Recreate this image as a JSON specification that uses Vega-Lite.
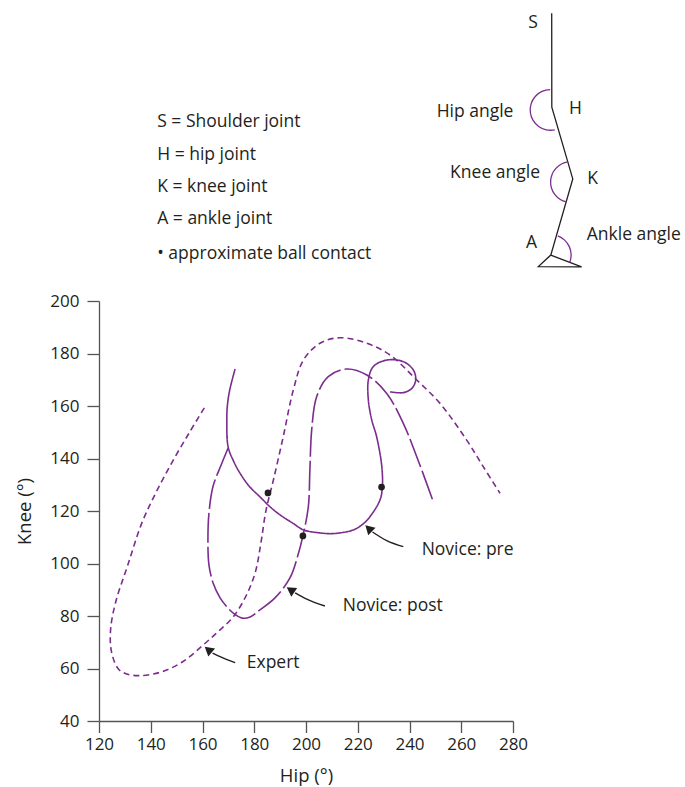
{
  "$schema": "https://vega.github.io/schema/vega-lite/v6.json",
  "autosize": "none",
  "width": 414,
  "height": 420,
  "padding": {"left": 99, "top": 301, "right": 172, "bottom": 66},
  "background": "white",
  "config": {
    "view": {"stroke": null},
    "font": "Open Sans",
    "axis": {
      "labelFont": "Open Sans", "labelFontSize": 17, "labelColor": "#231f20",
      "titleFont": "Open Sans", "titleFontSize": 18.5, "titleFontWeight": "normal", "titleColor": "#231f20",
      "domainColor": "#555555", "tickColor": "#555555", "domainWidth": 1.3, "tickWidth": 1.3,
      "grid": false
    }
  },
  "datasets": {
    "curves": [
      {"series": "Expert", "order": 1, "hip": 160.7, "knee": 159.3},
      {"series": "Expert", "order": 2, "hip": 155, "knee": 150},
      {"series": "Expert", "order": 3, "hip": 148.7, "knee": 139.4},
      {"series": "Expert", "order": 4, "hip": 142, "knee": 127},
      {"series": "Expert", "order": 5, "hip": 136.5, "knee": 115.3},
      {"series": "Expert", "order": 6, "hip": 131, "knee": 99},
      {"series": "Expert", "order": 7, "hip": 126.5, "knee": 85.5},
      {"series": "Expert", "order": 8, "hip": 124.5, "knee": 75},
      {"series": "Expert", "order": 9, "hip": 124.8, "knee": 66.5},
      {"series": "Expert", "order": 10, "hip": 127.5, "knee": 59.8},
      {"series": "Expert", "order": 11, "hip": 131, "knee": 57.8},
      {"series": "Expert", "order": 12, "hip": 135.2, "knee": 57.3},
      {"series": "Expert", "order": 13, "hip": 140, "knee": 57.7},
      {"series": "Expert", "order": 14, "hip": 146.1, "knee": 59.4},
      {"series": "Expert", "order": 15, "hip": 153, "knee": 63},
      {"series": "Expert", "order": 16, "hip": 160.3, "knee": 69},
      {"series": "Expert", "order": 17, "hip": 166, "knee": 74},
      {"series": "Expert", "order": 18, "hip": 171.9, "knee": 79.7},
      {"series": "Expert", "order": 19, "hip": 177, "knee": 88},
      {"series": "Expert", "order": 20, "hip": 180.5, "knee": 97},
      {"series": "Expert", "order": 21, "hip": 182.6, "knee": 108},
      {"series": "Expert", "order": 22, "hip": 184.5, "knee": 120},
      {"series": "Expert", "order": 23, "hip": 187.4, "knee": 131.8},
      {"series": "Expert", "order": 24, "hip": 191.2, "knee": 148.3},
      {"series": "Expert", "order": 25, "hip": 195.1, "knee": 166.1},
      {"series": "Expert", "order": 26, "hip": 199, "knee": 177.5},
      {"series": "Expert", "order": 27, "hip": 205.4, "knee": 183.9},
      {"series": "Expert", "order": 28, "hip": 213.1, "knee": 186},
      {"series": "Expert", "order": 29, "hip": 223.5, "knee": 183.9},
      {"series": "Expert", "order": 30, "hip": 232.5, "knee": 179.4},
      {"series": "Expert", "order": 31, "hip": 242.8, "knee": 169.9},
      {"series": "Expert", "order": 32, "hip": 251.8, "knee": 161},
      {"series": "Expert", "order": 33, "hip": 262.1, "knee": 147},
      {"series": "Expert", "order": 34, "hip": 268.5, "knee": 136.9},
      {"series": "Expert", "order": 35, "hip": 275, "knee": 126.7},

      {"series": "Novice: pre", "order": 1, "hip": 172.6, "knee": 174.1},
      {"series": "Novice: pre", "order": 2, "hip": 170.5, "knee": 166},
      {"series": "Novice: pre", "order": 3, "hip": 169.6, "knee": 160},
      {"series": "Novice: pre", "order": 4, "hip": 169.4, "knee": 154.7},
      {"series": "Novice: pre", "order": 5, "hip": 169.9, "knee": 144.4},
      {"series": "Novice: pre", "order": 6, "hip": 172, "knee": 139},
      {"series": "Novice: pre", "order": 7, "hip": 174.5, "knee": 134.4},
      {"series": "Novice: pre", "order": 8, "hip": 178, "knee": 129.5},
      {"series": "Novice: pre", "order": 9, "hip": 182.2, "knee": 125.4},
      {"series": "Novice: pre", "order": 10, "hip": 186, "knee": 121.7},
      {"series": "Novice: pre", "order": 11, "hip": 190, "knee": 118.5},
      {"series": "Novice: pre", "order": 12, "hip": 195, "knee": 115.3},
      {"series": "Novice: pre", "order": 13, "hip": 199, "knee": 112.8},
      {"series": "Novice: pre", "order": 14, "hip": 205, "knee": 111.7},
      {"series": "Novice: pre", "order": 15, "hip": 210.6, "knee": 111.4},
      {"series": "Novice: pre", "order": 16, "hip": 218.3, "knee": 112.8},
      {"series": "Novice: pre", "order": 17, "hip": 222, "knee": 115},
      {"series": "Novice: pre", "order": 18, "hip": 224.7, "knee": 117.8},
      {"series": "Novice: pre", "order": 19, "hip": 228.6, "knee": 124.2},
      {"series": "Novice: pre", "order": 20, "hip": 229.5, "knee": 129},
      {"series": "Novice: pre", "order": 21, "hip": 229.3, "knee": 136.9},
      {"series": "Novice: pre", "order": 22, "hip": 227.3, "knee": 148.3},
      {"series": "Novice: pre", "order": 23, "hip": 225.4, "knee": 154.7},
      {"series": "Novice: pre", "order": 24, "hip": 224.1, "knee": 162.3},
      {"series": "Novice: pre", "order": 25, "hip": 224.1, "knee": 169.9},
      {"series": "Novice: pre", "order": 26, "hip": 226, "knee": 175},
      {"series": "Novice: pre", "order": 27, "hip": 231.2, "knee": 177.5},
      {"series": "Novice: pre", "order": 28, "hip": 237.6, "knee": 176.9},
      {"series": "Novice: pre", "order": 29, "hip": 241.5, "knee": 173.7},
      {"series": "Novice: pre", "order": 30, "hip": 242.4, "knee": 169.9},
      {"series": "Novice: pre", "order": 31, "hip": 240.9, "knee": 166.7},
      {"series": "Novice: pre", "order": 32, "hip": 237.6, "knee": 165.1},
      {"series": "Novice: pre", "order": 33, "hip": 232.5, "knee": 165.4},

      {"series": "Novice: post", "order": 1, "hip": 169.9, "knee": 144.0},
      {"series": "Novice: post", "order": 2, "hip": 167.2, "knee": 137.5},
      {"series": "Novice: post", "order": 3, "hip": 164.1, "knee": 129.5},
      {"series": "Novice: post", "order": 4, "hip": 162.5, "knee": 119.2},
      {"series": "Novice: post", "order": 5, "hip": 162.1, "knee": 109},
      {"series": "Novice: post", "order": 6, "hip": 162.5, "knee": 99.4},
      {"series": "Novice: post", "order": 7, "hip": 164.1, "knee": 92.6},
      {"series": "Novice: post", "order": 8, "hip": 166.8, "knee": 86.9},
      {"series": "Novice: post", "order": 9, "hip": 169.5, "knee": 83.4},
      {"series": "Novice: post", "order": 10, "hip": 172, "knee": 81},
      {"series": "Novice: post", "order": 11, "hip": 175.3, "knee": 79.2},
      {"series": "Novice: post", "order": 12, "hip": 178.4, "knee": 79.6},
      {"series": "Novice: post", "order": 13, "hip": 182.2, "knee": 82.3},
      {"series": "Novice: post", "order": 14, "hip": 188, "knee": 86.9},
      {"series": "Novice: post", "order": 15, "hip": 193.8, "knee": 94.5},
      {"series": "Novice: post", "order": 16, "hip": 196.9, "knee": 103.2},
      {"series": "Novice: post", "order": 17, "hip": 198.8, "knee": 110.5},
      {"series": "Novice: post", "order": 18, "hip": 200.9, "knee": 121.6},
      {"series": "Novice: post", "order": 19, "hip": 201.5, "knee": 135.6},
      {"series": "Novice: post", "order": 20, "hip": 202.2, "knee": 150.9},
      {"series": "Novice: post", "order": 21, "hip": 204.1, "knee": 163.5},
      {"series": "Novice: post", "order": 22, "hip": 208.6, "knee": 171.2},
      {"series": "Novice: post", "order": 23, "hip": 215.7, "knee": 174.1},
      {"series": "Novice: post", "order": 24, "hip": 223.5, "knee": 171.8},
      {"series": "Novice: post", "order": 25, "hip": 231.2, "knee": 164.8},
      {"series": "Novice: post", "order": 26, "hip": 237.6, "knee": 153.4},
      {"series": "Novice: post", "order": 27, "hip": 242.8, "knee": 140.7},
      {"series": "Novice: post", "order": 28, "hip": 249.2, "knee": 123.5}
    ],
    "dots": [
      {"hip": 185.3, "knee": 126.9},
      {"hip": 198.8, "knee": 110.5},
      {"hip": 229.2, "knee": 129.1}
    ],
    "arrows": [
      {"arrow": "pre", "order": 1, "hip": 237.6, "knee": 106.4},
      {"arrow": "pre", "order": 2, "hip": 231.2, "knee": 108.7},
      {"arrow": "pre", "order": 3, "hip": 225.7, "knee": 112.0},
      {"arrow": "post", "order": 1, "hip": 207.3, "knee": 83.8},
      {"arrow": "post", "order": 2, "hip": 200.3, "knee": 86.4},
      {"arrow": "post", "order": 3, "hip": 195.8, "knee": 88.8},
      {"arrow": "expert", "order": 1, "hip": 172.6, "knee": 62.2},
      {"arrow": "expert", "order": 2, "hip": 166.8, "knee": 64.5},
      {"arrow": "expert", "order": 3, "hip": 163.9, "knee": 65.9}
    ],
    "heads": [
      {"arrow": "pre", "hip": 224.2, "knee": 113.4, "angle": 314},
      {"arrow": "post", "hip": 194.0, "knee": 90.0, "angle": 304},
      {"arrow": "expert", "hip": 162.2, "knee": 67.2, "angle": 310}
    ],
    "stick": [
      {"order": 1, "hip": 294.96, "knee": 309.6},
      {"order": 2, "hip": 295.0, "knee": 273.8},
      {"order": 3, "hip": 303.1, "knee": 246.5},
      {"order": 4, "hip": 294.6, "knee": 217.5},
      {"order": 5, "hip": 289.8, "knee": 213.1},
      {"order": 6, "hip": 306.5, "knee": 213.0},
      {"order": 7, "hip": 294.6, "knee": 217.5}
    ],
    "arcs": [
      {"joint": "hip", "hip": 294.5, "knee": 272.8, "t1": 168, "t2": 359},
      {"joint": "knee", "hip": 302.4, "knee": 245.3, "t1": 193, "t2": 352},
      {"joint": "ankle", "hip": 294.6, "knee": 217.5, "t1": 20, "t2": 111}
    ],
    "labels": [
      {"text": "S = Shoulder joint", "hip": 142.5, "knee": 268.2},
      {"text": "H = hip joint", "hip": 142.5, "knee": 255.6},
      {"text": "K = knee joint", "hip": 142.5, "knee": 243.4},
      {"text": "A = ankle joint", "hip": 142.5, "knee": 231.2},
      {"text": "• approximate ball contact", "hip": 142.5, "knee": 217.9},
      {"text": "S", "hip": 285.9, "knee": 306.0},
      {"text": "H", "hip": 301.6, "knee": 273.1},
      {"text": "K", "hip": 308.7, "knee": 246.5},
      {"text": "A", "hip": 285.0, "knee": 222.1},
      {"text": "Hip angle", "hip": 250.5, "knee": 272.1},
      {"text": "Knee angle", "hip": 255.7, "knee": 248.9},
      {"text": "Ankle angle", "hip": 308.5, "knee": 225.1},
      {"text": "Novice: pre", "hip": 244.7, "knee": 105.1},
      {"text": "Novice: post", "hip": 214.2, "knee": 83.8},
      {"text": "Expert", "hip": 177.1, "knee": 62.2}
    ]
  },
  "encoding": {
    "x": {"field": "hip", "type": "quantitative",
      "scale": {"domain": [120, 280], "nice": false, "zero": false},
      "axis": {"title": "Hip (°)", "values": [120, 140, 160, 180, 200, 220, 240, 260, 280], "tickSize": 11.5, "labelPadding": 4, "titlePadding": 14, "labelFlush": false}},
    "y": {"field": "knee", "type": "quantitative",
      "scale": {"domain": [40, 200], "nice": false, "zero": false},
      "axis": {"title": "Knee (°)", "values": [40, 60, 80, 100, 120, 140, 160, 180, 200], "tickSize": 12, "labelPadding": 8, "titlePadding": 15, "labelFlush": false}}
  },
  "layer": [
    {
      "data": {"name": "curves"},
      "mark": {"type": "line", "interpolate": "catmull-rom", "strokeWidth": 1.6, "color": "#7b2d8e", "clip": false},
      "encoding": {
        "order": {"field": "order", "type": "quantitative"},
        "strokeDash": {"field": "series", "type": "nominal",
          "scale": {"domain": ["Expert", "Novice: pre", "Novice: post"], "range": [[6, 4], [1, 0], [30, 4]]},
          "legend": null}
      }
    },
    {
      "data": {"name": "dots"},
      "mark": {"type": "point", "filled": true, "color": "#231f20", "size": 45, "opacity": 1}
    },
    {
      "data": {"name": "arrows"},
      "mark": {"type": "line", "interpolate": "monotone", "color": "#231f20", "strokeWidth": 1.4, "clip": false},
      "encoding": {
        "detail": {"field": "arrow", "type": "nominal"},
        "order": {"field": "order", "type": "quantitative"}
      }
    },
    {
      "data": {"name": "heads"},
      "mark": {"type": "point", "shape": "triangle-up", "filled": true, "color": "#231f20", "size": 110, "opacity": 1},
      "encoding": {
        "angle": {"field": "angle", "type": "quantitative", "scale": null}
      }
    },
    {
      "data": {"name": "stick"},
      "mark": {"type": "line", "color": "#231f20", "strokeWidth": 1.3, "clip": false, "strokeJoin": "miter"},
      "encoding": {
        "order": {"field": "order", "type": "quantitative"}
      }
    },
    {
      "data": {"name": "arcs"},
      "mark": {"type": "arc", "radius": 21, "radius2": 19.7, "color": "#7b2d8e"},
      "encoding": {
        "theta": {"field": "t1", "type": "quantitative", "scale": {"domain": [0, 360], "range": [0, 6.283185307], "zero": false, "nice": false}},
        "theta2": {"field": "t2"}
      }
    },
    {
      "data": {"name": "labels"},
      "mark": {"type": "text", "align": "left", "baseline": "middle", "font": "Open Sans", "fontSize": 17.5, "color": "#231f20"},
      "encoding": {
        "text": {"field": "text", "type": "nominal"}
      }
    }
  ]
}
